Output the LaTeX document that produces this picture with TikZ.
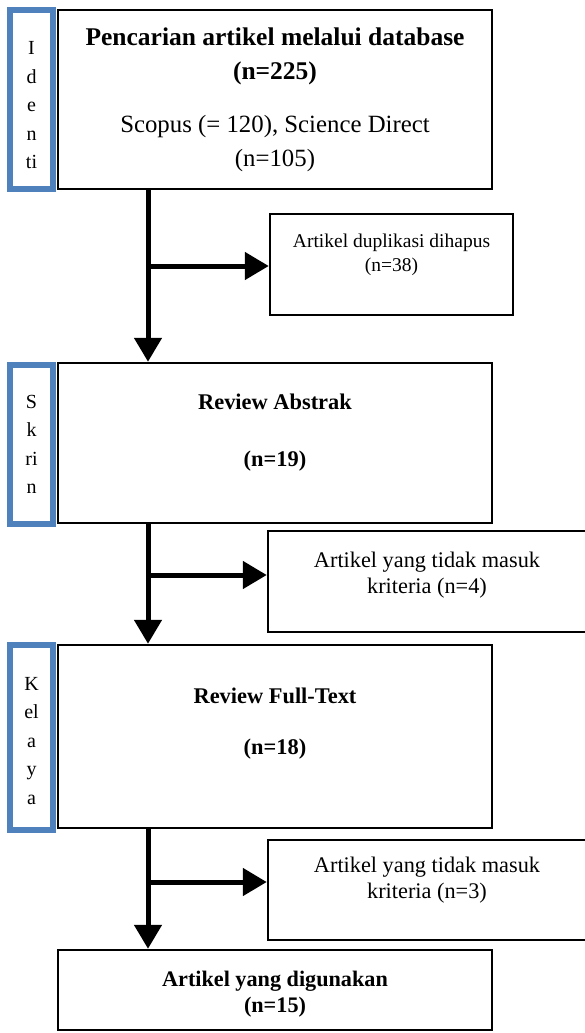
\documentclass[tikz,border=0pt]{standalone}
\usepackage{fontspec}
\setmainfont{Liberation Serif}
\usetikzlibrary{arrows.meta}
\definecolor{stageblue}{RGB}{79,129,189}
\tikzset{
  stage/.style={draw=stageblue, line width=6pt, minimum width=43pt, inner sep=0pt, align=center, font=\fontsize{20}{28.5}\selectfont},
  box/.style={draw=black, line width=2.5pt, minimum width=434pt, align=center},
  side/.style={draw=black, line width=2.5pt, align=center, font=\fontsize{22.3}{26.5}\selectfont},
  link/.style={line width=5pt, arrows={-Triangle[length=24pt,width=27pt]}}
}
\begin{document}
\begin{tikzpicture}[x=1pt, y=-1pt]
  \useasboundingbox (0,0) rectangle (584,1033);

  % stages
  \node[stage, minimum height=179pt] at (31.5,99.5) (ident) {\rule{0pt}{25pt}I\\d\\e\\n\\ti};
  \node[stage, minimum height=159pt] at (31.5,444.5) (skrin) {S\\k\\ri\\n};
  \node[stage, minimum height=185pt] at (31.5,737.5) (layak) {\rule{0pt}{20pt}K\\el\\a\\y\\a};

  % main boxes
  \node[box, minimum height=179pt, font=\fontsize{25.5}{34}\selectfont] at (275,99.5) (search)
    {\textbf{Pencarian artikel melalui database}\\\textbf{(n=225)}\\[19pt]\fontsize{24.8}{34}\selectfont Scopus (= 120), Science Direct\\\fontsize{24.8}{34}\selectfont (n=105)};
  \node[box, minimum height=160pt, text depth=26pt, font=\fontsize{22.4}{57}\selectfont\bfseries] at (275,443) (abstrak) {Review Abstrak\\(n=19)};
  \node[box, minimum height=183pt, text depth=31pt, font=\fontsize{22.4}{51}\selectfont\bfseries] at (275,736.5) (fulltext) {Review Full-Text\\(n=18)};
  \node[box, minimum height=80pt, font=\fontsize{22.2}{26}\selectfont\bfseries] at (275,990) (used) {\rule{0pt}{23pt}Artikel yang digunakan\\(n=15)};

  % excluded
  \node[side, minimum width=243pt, minimum height=101pt, text depth=23pt, font=\fontsize{19.5}{24}\selectfont] at (391.5,264.5) (dup) {Artikel duplikasi dihapus\\(n=38)};
  \node[side, minimum width=318pt, minimum height=101pt, text depth=17pt] at (427,581.5) (out1) {Artikel yang tidak masuk\\kriteria (n=4)};
  \node[side, minimum width=318pt, minimum height=100pt, text depth=24pt] at (427,890) (out2) {Artikel yang tidak masuk\\kriteria (n=3)};

  % links
  \coordinate (j1) at (148,266);
  \coordinate (j2) at (148,575);
  \coordinate (j3) at (148,882);
  \draw[link] (search.south-|j1) -- (abstrak.north-|j1);
  \draw[link] (j1) -- (dup.west|-j1);
  \draw[link] (abstrak.south-|j2) -- (fulltext.north-|j2);
  \draw[link] (j2) -- (out1.west|-j2);
  \draw[link] (fulltext.south-|j3) -- (used.north-|j3);
  \draw[link] (j3) -- (out2.west|-j3);
\end{tikzpicture}
\end{document}
